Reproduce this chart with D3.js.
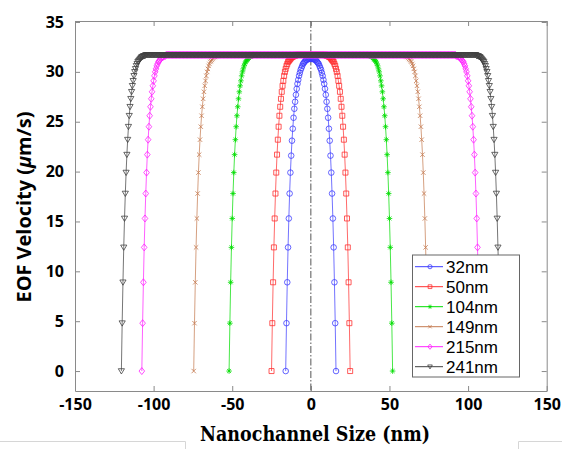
<!DOCTYPE html>
<html>
<head>
<meta charset="utf-8">
<script src="https://cdn.jsdelivr.net/npm/d3@7"></script>
<style>
  body { margin: 0; background: white; }
  svg { display: block; }
</style>
</head>
<body>
<div id="chart"></div>
<script>
// channel sizes (nm) and how each series is drawn
var sizes = [32, 50, 104, 149, 215, 241]
var labels = ['32nm', '50nm', '104nm', '149nm', '215nm', '241nm']
var colors = ['#3c3cff', '#ff3030', '#00dd00', '#c47a50', '#ff22ff', '#404040']
var shapes = ['circle', 'square', 'star', 'x', 'diamond', 'triangle']

// sample spacing across the channel (nm) and the plateau velocity (um/s)
var step = 0.5
var plateau = 31.7
// velocity vs. distance from the wall, one value per sample
var wallProfile = [0, 4.8, 8.9, 12.4, 15.3, 17.8, 19.9, 21.7, 23.2, 24.5, 25.6, 26.5, 27.3,
	28.0, 28.6, 29.1, 29.6, 30.0, 30.3, 30.6, 30.8, 31.0, 31.1, 31.2, 31.3, 31.4, 31.5,
	31.5, 31.6, 31.6, 31.6, 31.7]
// the 32nm channel never reaches the plateau: wall to centre
var profile32 = [0, 4.8, 8.9, 12.4, 15.3, 17.8, 19.9, 21.6, 23.1, 24.3, 25.4, 26.3, 27.0,
	27.7, 28.3, 28.8, 29.2, 29.6, 29.9, 30.2, 30.4, 30.6, 30.8, 30.9, 31.0, 31.1, 31.2,
	31.2, 31.3, 31.3, 31.3, 31.3, 31.3]

var xTicks = [-150, -100, -50, 0, 50, 100, 150]
var yTicks = [0, 5, 10, 15, 20, 25, 30, 35]

var W = 562, H = 449

var svg = d3.select('#chart')
	.append('svg')
	.attr('width', W)
	.attr('height', H)

var x = d3.scaleLinear().domain([-150, 150]).range([75, 546.7])
var y = d3.scaleLinear().domain([-2, 35.1]).range([391, 21])

var series = sizes.map(function(s, k) {
	var n = Math.round(s / step)
	var prof = s === 32 ? profile32 : wallProfile
	var pts = d3.range(n + 1).map(function(i) {
		var d = Math.min(i, n - i)
		return { x: -s / 2 + i * step, v: d < prof.length ? prof[d] : plateau }
	})
	return { size: s, label: labels[k], color: colors[k], shape: shapes[k], points: pts }
})

function marker(shape, r) {
	if (shape === 'circle') {
		return 'M' + r + ',0A' + r + ',' + r + ' 0 1,1 ' + (-r) + ',0A' + r + ',' + r + ' 0 1,1 ' + r + ',0Z'
	} else if (shape === 'square') {
		return 'M' + (-r) + ',' + (-r) + 'H' + r + 'V' + r + 'H' + (-r) + 'Z'
	} else if (shape === 'diamond') {
		return 'M0,' + (-r * 1.25) + 'L' + r + ',0L0,' + (r * 1.25) + 'L' + (-r) + ',0Z'
	} else if (shape === 'triangle') {
		return 'M' + (-r) + ',' + (-r * 0.75) + 'H' + r + 'L0,' + (r * 0.95) + 'Z'
	} else if (shape === 'x') {
		return 'M' + (-r) + ',' + (-r) + 'L' + r + ',' + r + 'M' + r + ',' + (-r) + 'L' + (-r) + ',' + r
	} else {
		var q = r * 0.7
		return 'M' + (-r) + ',0H' + r + 'M0,' + (-r) + 'V' + r +
			'M' + (-q) + ',' + (-q) + 'L' + q + ',' + q + 'M' + q + ',' + (-q) + 'L' + (-q) + ',' + q
	}
}
var markerSize = { circle: 2.8, square: 2.5, star: 2.8, x: 2.2, diamond: 2.8, triangle: 3.1 }

// frame and inward ticks
var tickFont = "'Open Sans', sans-serif"
var plainNum = function(d) { return String(d) }   // ascii hyphen, not the unicode minus
function styleAxis(g) {
	g.select('.domain').attr('stroke', '#8a8a8a').attr('stroke-width', 1)
	g.selectAll('.tick line').attr('stroke', '#8a8a8a')
	g.selectAll('.tick text')
		.attr('fill', 'black')
		.style('font-family', tickFont)
		.style('font-weight', 700)
		.style('font-size', '16px')
}
svg.append('g')
	.attr('transform', 'translate(0,391)')
	.call(d3.axisBottom(x).tickValues(xTicks).tickFormat(plainNum).tickSizeInner(-5).tickSizeOuter(0).tickPadding(8))
	.call(styleAxis)
svg.append('g')
	.attr('transform', 'translate(0,21)')
	.call(d3.axisTop(x).tickValues(xTicks).tickSizeInner(-5).tickSizeOuter(0).tickFormat(''))
	.call(styleAxis)
svg.append('g')
	.attr('transform', 'translate(75,0)')
	.call(d3.axisLeft(y).tickValues(yTicks).tickFormat(plainNum).tickSizeInner(-5).tickSizeOuter(0).tickPadding(11))
	.call(styleAxis)
svg.append('g')
	.attr('transform', 'translate(546.7,0)')
	.call(d3.axisRight(y).tickValues(yTicks).tickSizeInner(-5).tickSizeOuter(0).tickFormat(''))
	.call(styleAxis)

// centre line
svg.append('line')
	.attr('x1', x(0)).attr('x2', x(0))
	.attr('y1', y.range()[1]).attr('y2', y.range()[0])
	.attr('stroke', '#555')
	.attr('stroke-width', 1)
	.attr('stroke-dasharray', '7,2,1.5,2')

var line = d3.line()
	.x(function(d) { return x(d.x) })
	.y(function(d) { return y(d.v) })

var groups = svg.selectAll('g.series')
	.data(series)
	.enter()
	.append('g')
	.attr('class', 'series')

groups.append('path')
	.attr('d', function(d) { return line(d.points) })
	.attr('fill', 'none')
	.attr('stroke', function(d) { return d.color })
	.attr('stroke-width', 0.9)
	.attr('stroke-opacity', 0.8)

groups.each(function(s) {
	d3.select(this).selectAll('path.mk')
		.data(s.points)
		.enter()
		.append('path')
		.attr('class', 'mk')
		.attr('transform', function(d) { return 'translate(' + x(d.x) + ',' + y(d.v) + ')' })
		.attr('d', marker(s.shape, markerSize[s.shape]))
		.attr('fill', s.shape === 'star' ? s.color : 'none')
		.attr('stroke', s.color)
		.attr('stroke-width', 0.8)
})

// legend
var legend = svg.append('g')
legend.append('rect')
	.attr('x', 412.5).attr('y', 255)
	.attr('width', 107).attr('height', 122)
	.attr('fill', 'white')
	.attr('stroke', '#666')
	.attr('stroke-width', 1)
var rows = legend.selectAll('g.row')
	.data(series)
	.enter()
	.append('g')
	.attr('class', 'row')
	.attr('transform', function(d, i) { return 'translate(0,' + (266.7 + i * 20) + ')' })
rows.append('line')
	.attr('x1', 415).attr('x2', 443)
	.attr('stroke', function(d) { return d.color })
	.attr('stroke-width', 1)
rows.append('path')
	.attr('transform', 'translate(430,0)')
	.attr('d', function(d) { return marker(d.shape, markerSize[d.shape] * 0.75) })
	.attr('fill', function(d) { return d.shape === 'star' ? d.color : 'none' })
	.attr('stroke', function(d) { return d.color })
	.attr('stroke-width', 0.8)
rows.append('text')
	.attr('x', 446)
	.attr('y', 6)
	.text(function(d) { return d.label })
	.style('font-family', "'Liberation Sans', Arial, sans-serif")
	.style('font-size', '17px')
	.attr('fill', 'black')

// axis titles
var ylab = svg.append('text')
	.attr('transform', 'translate(31,207) rotate(-90)')
	.attr('text-anchor', 'middle')
	.attr('textLength', 191)
	.attr('lengthAdjust', 'spacingAndGlyphs')
	.style('font-family', "'Open Sans', sans-serif")
	.style('font-weight', 700)
	.style('font-size', '20px')
	.attr('fill', 'black')
ylab.append('tspan').text('EOF Velocity (')
ylab.append('tspan').style('font-style', 'italic').text('\u03bc')
ylab.append('tspan').text('m/s)')

svg.append('text')
	.attr('x', 315)
	.attr('y', 441)
	.attr('text-anchor', 'middle')
	.attr('textLength', 230)
	.attr('lengthAdjust', 'spacingAndGlyphs')
	.style('font-family', "'DejaVu Serif', serif")
	.style('font-weight', 700)
	.style('font-size', '21px')
	.attr('fill', 'black')
	.text('Nanochannel Size (nm)')

// faint page edges at the bottom of the picture
svg.append('path')
	.attr('d', 'M0,441.5H185.5V449M518.5,449V441.5H562')
	.attr('fill', 'none')
	.attr('stroke', '#d6d6d6')
	.attr('stroke-width', 1)
</script>
</body>
</html>
